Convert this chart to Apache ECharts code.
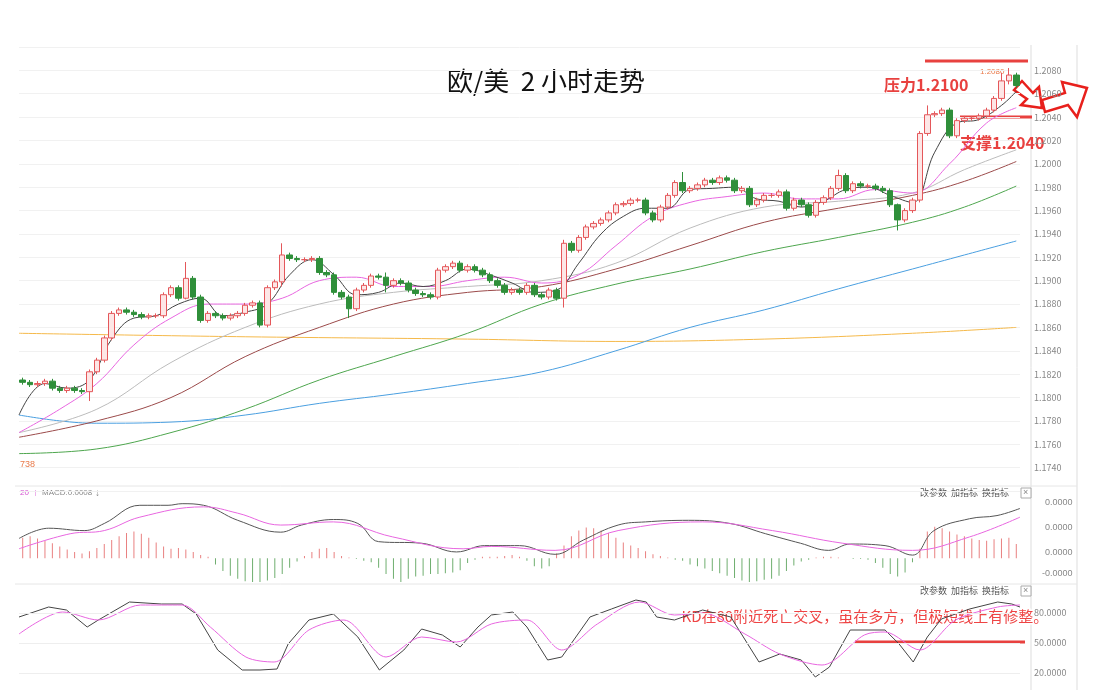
<!DOCTYPE html>
<html>
<head>
<meta charset="utf-8">
<script src="https://cdn.jsdelivr.net/npm/echarts@6/dist/echarts.min.js"></script>
<style>html,body{margin:0;padding:0;background:#fff;}#main{width:1094px;height:697px;}</style>
</head>
<body>
<div id="main"></div>
<script>
// 收盘价 (2小时K线)
var closes = [1.1813,1.1811,1.1812,1.1814,1.1808,1.1806,1.1808,1.1806,1.1805,1.1822,
  1.1832,1.1851,1.1872,1.1875,1.1873,1.1871,1.1869,1.1870,1.1870,1.1888,
  1.1894,1.1885,1.1902,1.1886,1.1866,1.1872,1.1870,1.1868,1.1870,1.1872,
  1.1879,1.1881,1.1862,1.1894,1.1899,1.1922,1.1919,1.1918,1.1918,1.1919,
  1.1907,1.1905,1.1890,1.1886,1.1876,1.1892,1.1896,1.1904,1.1903,1.1896,
  1.1900,1.1898,1.1892,1.1889,1.1888,1.1886,1.1909,1.1912,1.1915,1.1909,
  1.1912,1.1909,1.1905,1.1900,1.1896,1.1890,1.1892,1.1890,1.1896,1.1888,
  1.1886,1.1892,1.1885,1.1932,1.1926,1.1937,1.1946,1.1949,1.1952,1.1958,
  1.1965,1.1966,1.1969,1.1969,1.1958,1.1952,1.1963,1.1973,1.1984,1.1977,
  1.1979,1.1982,1.1986,1.1984,1.1988,1.1986,1.1977,1.1979,1.1965,1.1969,
  1.1973,1.1973,1.1976,1.1962,1.1969,1.1965,1.1956,1.1967,1.1971,1.1979,
  1.1990,1.1977,1.1983,1.1981,1.1981,1.1979,1.1977,1.1965,1.1952,1.1960,
  1.1969,1.2026,1.2042,1.2043,1.2046,1.2024,1.2037,1.2039,1.2039,1.2041,
  1.2046,1.2056,1.2071,1.2076,1.2067];
var firstOpen = 1.1815;
// 长影线 [序号, 最高, 最低]
var spikes = [[9,1.1824,1.1797],[22,1.1916,1.1884],[35,1.1932,1.1895],[44,1.1888,1.1868],
  [49,1.1907,1.1890],[73,1.1935,1.1877],[89,1.1993,1.1975],[110,1.1995,1.1977],
  [118,1.1966,1.1943],[122,1.2050,1.2024],[131,1.2058,1.2044],[132,1.2078,1.2054],[133,1.2082,1.2068]];
// 均线
var ma5 = [[-0.5,1.1785],[3,1.1812],[6,1.1808],[9,1.1815],[12,1.1850],[15,1.1868],[18,1.1870],[21,1.1880],[24,1.1885],[27,1.1870],[30,1.1873],[33,1.1880],[36,1.1905],[39,1.1918],[42,1.1905],[45,1.1888],[48,1.1890],[51,1.1898],[54,1.1895],[57,1.1900],[60,1.1910],[63,1.1905],[66,1.1898],[69,1.1890],[72,1.1892],[75,1.1915],[78,1.1940],[81,1.1955],[84,1.1962],[87,1.1962],[90,1.1978],[93,1.1979],[96,1.1980],[99,1.1970],[102,1.1968],[105,1.1963],[108,1.1968],[111,1.1978],[114,1.1980],[117,1.1973],[120,1.1967],[123,1.2010],[126,1.2035],[129,1.2038],[132,1.2050],[134,1.2062]];
var ma10 = [[-0.5,1.1770],[5,1.1790],[10,1.1812],[15,1.1845],[20,1.1868],[25,1.1880],[30,1.1880],[35,1.1885],[40,1.1900],[45,1.1903],[50,1.1895],[55,1.1895],[60,1.1900],[65,1.1903],[70,1.1898],[75,1.1905],[80,1.1930],[85,1.1955],[90,1.1967],[95,1.1972],[100,1.1975],[105,1.1970],[110,1.1970],[115,1.1978],[120,1.1975],[125,1.2000],[130,1.2035],[134,1.2048]];
var ma20 = [[-0.5,1.1770],[10,1.1790],[20,1.1830],[30,1.1860],[40,1.1880],[50,1.1890],[60,1.1895],[70,1.1900],[80,1.1915],[90,1.1945],[100,1.1963],[110,1.1968],[120,1.1975],[127,1.1995],[134,1.2012]];
var ma30 = [[-0.5,1.1766],[10,1.1780],[20,1.1800],[30,1.1835],[40,1.1860],[50,1.1880],[60,1.1890],[70,1.1895],[80,1.1910],[90,1.1930],[100,1.1950],[110,1.1962],[120,1.1973],[127,1.1985],[134,1.2002]];
var ma60 = [[-0.5,1.1752],[10,1.1756],[20,1.1770],[30,1.1790],[40,1.1815],[50,1.1835],[60,1.1855],[70,1.1880],[80,1.1897],[90,1.1910],[100,1.1925],[110,1.1937],[120,1.1950],[127,1.1963],[134,1.1981]];
var ma120 = [[-0.5,1.1785],[5,1.1780],[10,1.1778],[20,1.1779],[30,1.1785],[40,1.1795],[50,1.1803],[60,1.1812],[70,1.1822],[80,1.1840],[90,1.1860],[100,1.1875],[110,1.1893],[120,1.1910],[127,1.1922],[134,1.1934]];
var ma250 = [[-0.5,1.1855],[30,1.1852],[60,1.1850],[80,1.1848],[100,1.1850],[120,1.1855],[134,1.1860]];
// MACD
var dif = [[-0.5,2.5],[3.5,3.8],[8.3,3.5],[11,4.4],[15.8,6.7],[19.6,6.7],[21.5,6.9],[24.4,6.7],[29,4.8],[34.8,3.3],[37.6,4.2],[41.9,4.9],[45.2,4.4],[48,2.1],[53.8,1.9],[58.5,0.8],[62.3,1.6],[67,1.6],[71.8,0.5],[75.6,2.3],[80.3,4.2],[84,4.6],[89.8,4.8],[95.4,4.4],[100.2,3.1],[104.9,1.9],[108.7,1.0],[111.6,1.8],[116.3,1.6],[120,0.4],[122.9,3.5],[127.7,5.0],[131.4,5.4],[134.5,6.3]];
var dea = [[-0.5,1.2],[6.4,3.1],[11,3.5],[15.8,5.2],[24.4,6.5],[29,5.7],[34.8,4.2],[41.9,4.6],[49.9,2.7],[59.4,1.2],[63.2,1.5],[71.8,1.0],[80.3,3.5],[91.7,4.6],[101.1,3.5],[110.6,1.9],[120,1.0],[127.7,2.7],[134.5,5.2]];
var macdBar = [2.6,2.8,2.5,2.2,1.9,1.5,1.1,0.8,0.6,0.9,1.3,1.8,2.3,2.8,3.2,3.4,3.1,2.6,2.0,1.5,1.2,1.3,1.1,
  0.8,0.4,0.2,-0.8,-1.6,-2.2,-2.6,-2.9,-3.0,-3.0,-2.8,-2.5,-2.0,-1.2,-0.4,0.3,0.8,1.2,1.3,0.8,0.3,
  0.1,-0.1,-0.3,-0.5,-1.2,-2.0,-2.6,-3.2,-2.6,-2.3,-2.2,-2.0,-2.0,-1.9,-1.8,-1.5,-0.6,-0.2,0.2,0.2,
  0.2,0.3,0.4,0.2,-0.3,-1.0,-1.3,-1.0,0.6,1.6,2.8,3.5,3.9,3.8,3.5,3.2,2.6,2.0,1.6,1.3,0.9,0.5,0.3,
  0.1,-0.2,-0.3,-0.8,-1.0,-1.3,-1.6,-1.9,-2.2,-2.5,-2.8,-3.0,-2.9,-2.7,-2.6,-2.2,-1.6,-0.9,-0.4,-0.2,
  0.1,0.2,0.2,0.1,0,-0.1,-0.1,-0.2,-0.6,-1.2,-2.0,-2.3,-1.8,-0.5,1.2,3.4,4.0,3.8,3.4,3.0,2.8,2.5,2.3,2.2,2.4,2.5,2.6,1.8];
// KD
var kLine = [[-0.5,76],[3.5,86],[5.9,83],[8.7,66],[10.2,73],[14.4,91],[18.7,89],[21.5,89],[23.4,79],[26.3,43],[29.6,23],[32,23],[34.3,24],[35.8,49],[38.6,73],[41.9,79],[45.2,56],[48.1,23],[51.4,43],[53.8,64],[56.6,58],[59,46],[61.4,66],[63.2,78],[66.1,81],[68,66],[70.8,33],[72.7,36],[76.5,76],[79.4,84],[82.7,93],[84.1,91],[85.5,76],[87.9,73],[91.7,83],[95.5,76],[99.3,31],[102.1,39],[105,33],[106.9,16],[108.8,26],[111.6,63],[116.3,63],[118.2,49],[120.1,31],[122,56],[123.9,74],[127.7,84],[131.5,91],[133.4,89],[134.5,86]];
var dLine = [[-0.5,59],[5.4,81],[10.2,73],[15.9,88],[21.5,88],[25.3,66],[30.1,36],[33.9,31],[38.6,63],[43.3,73],[49,36],[53.8,56],[58.5,51],[63.2,69],[68,73],[72.7,43],[77.5,69],[83.2,91],[87.9,78],[91.7,80],[97.4,59],[102.1,39],[107.8,28],[113.5,58],[116.3,61],[121,43],[125.8,73],[131.5,86],[134.5,88]];
var priceTicks = ['1.2080','1.2060','1.2040','1.2020','1.2000','1.1980','1.1960','1.1940','1.1920','1.1900','1.1880','1.1860','1.1840','1.1820','1.1800','1.1780','1.1760','1.1740'];

var cats = [], kdata = [], open = firstOpen;
for (var i = 0; i < closes.length; i++) {
  var c = closes[i];
  var hi = Math.max(open, c) + 0.0002, lo = Math.min(open, c) - 0.0002;
  spikes.forEach(function(s){ if (s[0] === i) { hi = s[1]; lo = s[2]; } });
  cats.push(i);
  kdata.push([open, c, lo, hi]);
  open = c;
}

function maLine(data, color, xi, yi) {
  return { type: 'line', data: data, xAxisIndex: xi, yAxisIndex: yi, smooth: 0.4, symbol: 'none',
    lineStyle: { color: color, width: 1 }, z: 3 };
}

var txtGray = '#888';
var chart = echarts.init(document.getElementById('main'));
chart.setOption({
  animation: false,
  textStyle: { fontFamily: '"Noto Sans CJK SC", "Noto Sans", sans-serif' },
  grid: [
    { left: 19, right: 74, top: 47, height: 444 },
    { left: 19, right: 74, top: 495, height: 87 },
    { left: 19, right: 74, top: 593, height: 90 }
  ],
  xAxis: [
    { type: 'category', data: cats, gridIndex: 0, show: false },
    { type: 'value', min: -0.5, max: 134.5, gridIndex: 0, show: false },
    { type: 'category', data: cats, gridIndex: 1, show: false },
    { type: 'value', min: -0.5, max: 134.5, gridIndex: 1, show: false },
    { type: 'value', min: -0.5, max: 134.5, gridIndex: 2, show: false }
  ],
  yAxis: [
    { type: 'value', gridIndex: 0, position: 'right', min: 1.1720, max: 1.2100, interval: 0.002,
      axisLine: { show: false }, axisTick: { show: false },
      splitLine: { lineStyle: { color: '#f1f1f1' } },
      axisLabel: { color: txtGray, fontSize: 9, margin: 14,
        formatter: function(v){ var s = v.toFixed(4); return priceTicks.indexOf(s) >= 0 ? s : ''; } } },
    { type: 'value', gridIndex: 0, min: 1.1720, max: 1.2100, show: false },
    { type: 'value', gridIndex: 1, min: -3, max: 8, show: false },
    { type: 'value', gridIndex: 1, min: -3, max: 8, show: false },
    { type: 'value', gridIndex: 2, position: 'right', min: 10, max: 100, interval: 10,
      axisLine: { show: false }, axisTick: { show: false }, splitLine: { show: false },
      axisLabel: { color: txtGray, fontSize: 9, margin: 14,
        formatter: function(v){ return (v === 20 || v === 50 || v === 80) ? v.toFixed(4) : ''; } } }
  ],
  series: [
    { type: 'candlestick', data: kdata, xAxisIndex: 0, yAxisIndex: 0, barWidth: 6, z: 4,
      itemStyle: { color: '#fde6e6', color0: '#2f8f3a', borderColor: '#e4575a', borderColor0: '#2f8f3a', borderWidth: 1 } },
    maLine(ma250, '#f5b94a', 1, 1),
    maLine(ma120, '#4a9fe0', 1, 1),
    maLine(ma60, '#4ea64e', 1, 1),
    maLine(ma30, '#9b4a4a', 1, 1),
    maLine(ma20, '#bcbcbc', 1, 1),
    maLine(ma10, '#e866e0', 1, 1),
    maLine(ma5, '#444', 1, 1),
    { type: 'bar', data: macdBar.map(function(v){ return { value: v, itemStyle: { color: v >= 0 ? '#e98080' : '#6fae6f' } }; }),
      xAxisIndex: 2, yAxisIndex: 2, barWidth: 1 },
    maLine(dif, '#555', 3, 3),
    maLine(dea, '#e866e0', 3, 3),
    { type: 'line', data: kLine, xAxisIndex: 4, yAxisIndex: 4, symbol: 'none', lineStyle: { color: '#444', width: 1 },
      markLine: { silent: true, symbol: 'none', label: { show: false }, lineStyle: { color: '#eee', type: 'solid', width: 1 },
        data: [{ yAxis: 20 }, { yAxis: 50 }, { yAxis: 80 }] } },
    { type: 'line', data: dLine, xAxisIndex: 4, yAxisIndex: 4, smooth: 0.3, symbol: 'none', lineStyle: { color: '#e866e0', width: 1 } }
  ],
  graphic: [
    { type: 'line', shape: { x1: 1031, y1: 45, x2: 1031, y2: 690 }, style: { stroke: '#ddd' } },
    { type: 'line', shape: { x1: 1077, y1: 45, x2: 1077, y2: 690 }, style: { stroke: '#ddd' } },
    { type: 'line', shape: { x1: 15, y1: 486, x2: 1077, y2: 486 }, style: { stroke: '#e6e6e6' } },
    { type: 'line', shape: { x1: 15, y1: 584, x2: 1077, y2: 584 }, style: { stroke: '#e6e6e6' } },
    { type: 'text', left: 447, top: 68, style: { text: '欧/美  2 小时走势', fill: '#111', font: '26px "Noto Sans CJK SC"' } },
    { type: 'line', shape: { x1: 925, y1: 61, x2: 1028, y2: 61 }, style: { stroke: '#e8413f', lineWidth: 3 } },
    { type: 'line', shape: { x1: 960, y1: 117, x2: 1032, y2: 117 }, style: { stroke: '#e8413f', lineWidth: 3 } },
    { type: 'text', left: 884, top: 77, style: { text: '压力1.2100', fill: '#e8413f', font: 'bold 16px "Noto Sans CJK SC"' } },
    { type: 'text', left: 960, top: 135, style: { text: '支撑1.2040', fill: '#e8413f', font: 'bold 16px "Noto Sans CJK SC"' } },
    { type: 'text', left: 980, top: 68, style: { text: '1.2080', fill: '#e97a4a', font: '8px sans-serif' } },
    { type: 'text', left: 20, top: 460, style: { text: '738', fill: '#e97a4a', font: '9px sans-serif' } },
    { type: 'polygon', shape: { points: [[1014,90],[1022,81],[1033,93],[1039,87],[1042,108],[1021,105],[1027,99]] },
      style: { fill: '#fff', stroke: '#e8201c', lineWidth: 2.5 } },
    { type: 'polygon', shape: { points: [[1045,112],[1042,100],[1065,93],[1062,82],[1087,88],[1077,117],[1068,105]] },
      style: { fill: '#fff', stroke: '#e8201c', lineWidth: 2.5 } },
    { type: 'text', left: 20, top: 489, style: { text: '20', fill: '#d44fd0', font: '8px sans-serif' } },
    { type: 'text', left: 33, top: 488, style: { text: '↑', fill: '#d44fd0', font: '10px sans-serif' } },
    { type: 'text', left: 42, top: 489, style: { text: 'MACD:0.0008', fill: '#888', font: '8px sans-serif' } },
    { type: 'text', left: 95, top: 488, style: { text: '↓', fill: '#888', font: '10px sans-serif' } },
    { type: 'text', left: 920, top: 488, style: { text: '改参数  加指标  换指标', fill: '#555', font: '9px "Noto Sans CJK SC"' } },
    { type: 'rect', shape: { x: 1021, y: 488, width: 10, height: 10 }, style: { fill: '#fff', stroke: '#aaa' } },
    { type: 'text', left: 1023, top: 488, style: { text: '×', fill: '#888', font: '9px sans-serif' } },
    { type: 'text', left: 920, top: 586, style: { text: '改参数  加指标  换指标', fill: '#555', font: '9px "Noto Sans CJK SC"' } },
    { type: 'rect', shape: { x: 1021, y: 586, width: 10, height: 10 }, style: { fill: '#fff', stroke: '#aaa' } },
    { type: 'text', left: 1023, top: 586, style: { text: '×', fill: '#888', font: '9px sans-serif' } },
    { type: 'text', left: 1045, top: 498, style: { text: '0.0000', fill: txtGray, font: '9px sans-serif' } },
    { type: 'text', left: 1045, top: 523, style: { text: '0.0000', fill: txtGray, font: '9px sans-serif' } },
    { type: 'text', left: 1045, top: 548, style: { text: '0.0000', fill: txtGray, font: '9px sans-serif' } },
    { type: 'text', left: 1042, top: 569, style: { text: '-0.0000', fill: txtGray, font: '9px sans-serif' } },
    { type: 'text', left: 680, top: 607, style: { text: 'KD在80附近死亡交叉，虽在多方，但极短线上有修整。', fill: '#ee4444',
      font: '15px "Noto Sans CJK SC"', stroke: '#fff', lineWidth: 3 } },
    { type: 'line', shape: { x1: 855, y1: 642, x2: 1025, y2: 642 }, style: { stroke: '#e8413f', lineWidth: 3 } }
  ]
});
</script>
</body>
</html>
